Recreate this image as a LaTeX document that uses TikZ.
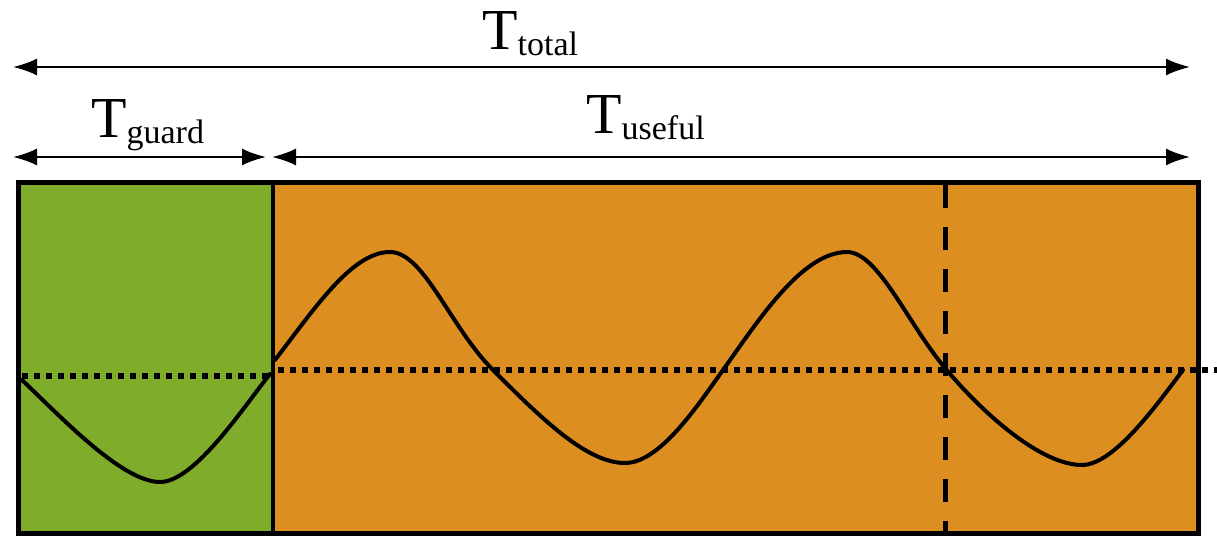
\documentclass[tikz,border=0pt]{standalone}
\usepackage{fontspec}
\setmainfont{Liberation Serif}
\usetikzlibrary{arrows.meta}
\definecolor{guardgreen}{RGB}{127,173,43}
\definecolor{usefulorange}{RGB}{220,142,32}
\newcommand{\tlabel}[1]{\fontsize{58}{60}\selectfont T\raisebox{-6pt}{\fontsize{34}{36}\selectfont #1}}
\begin{document}
\begin{tikzpicture}[x=1pt,y=-1pt,
  dimarrow/.style={line width=2.2pt, arrows={Latex[length=24pt,width=17pt]-Latex[length=24pt,width=17pt]}},
  framebox/.style={line width=5pt},
  wave/.style={line width=4pt, line join=round, line cap=round},
  baseline/.style={line width=5.5pt, dash pattern=on 5.5pt off 6.5pt},
  marker/.style={line width=5pt, dash pattern=on 23pt off 19pt},
  lbl/.style={inner sep=0pt, anchor=base west}]
\useasboundingbox (0,0) rectangle (1217,538);
% regions
\fill[guardgreen] (18,182) rectangle (273,533);
\fill[usefulorange] (273,182) rectangle (1198,533);
% baselines
\draw[baseline] (22,376) -- (268,376);
\draw[baseline] (278,370) -- (1217,370);
% dashed marker
\draw[marker] (945,185) -- (945,533);
% guard wave (cyclic prefix)
\draw[wave] (22,380) .. controls (60,416) and (122,482) .. (160,482)
  .. controls (195,482) and (245,405) .. (270,374);
% useful wave
\draw[wave] (275,360) .. controls (315,308) and (352,252) .. (390,252)
  .. controls (424,252) and (450,327) .. (493,370)
  .. controls (540,417) and (586,463) .. (625,463)
  .. controls (660,463) and (698,405) .. (723,370)
  .. controls (758,321) and (802,252) .. (847,252)
  .. controls (878,252) and (908,324) .. (945,368)
  .. controls (985,416) and (1042,465) .. (1082,465)
  .. controls (1115,465) and (1160,400) .. (1183,370);
% frame
\draw[framebox] (18,182) rectangle (1198,533);
\draw[line width=4pt] (273,182) -- (273,533);
% dimension arrows
\coordinate (totL) at (13,67);
\coordinate (totR) at (1190,67);
\coordinate (gL) at (13,157);
\coordinate (gR) at (266,157);
\coordinate (uL) at (272,157);
\coordinate (uR) at (1190,157);
\draw[dimarrow] (totL) -- (totR);
\draw[dimarrow] (gL) -- (gR);
\draw[dimarrow] (uL) -- (uR);
% labels
\node[lbl] (ttotal) at (482,49) {\tlabel{total}};
\node[lbl] (tguard) at (91,137) {\tlabel{guard}};
\node[lbl] (tuseful) at (586,133) {\tlabel{useful}};
\end{tikzpicture}
\end{document}
